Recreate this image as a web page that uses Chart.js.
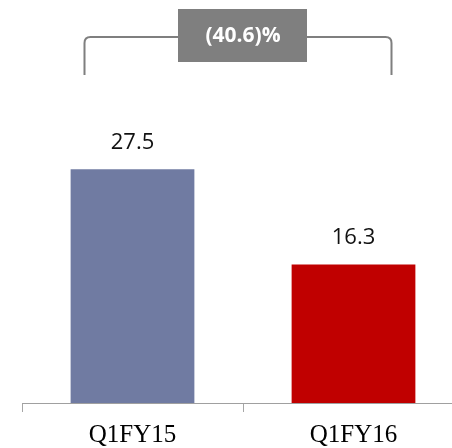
<!DOCTYPE html>
<html>
<head>
<meta charset="utf-8">
<script src="https://cdn.jsdelivr.net/npm/chart.js@4/dist/chart.umd.min.js"></script>
<style>
html, body { margin: 0; padding: 0; overflow: hidden; background: #fff; }
#wrap { position: absolute; left: 0; top: 0; width: 470px; height: 448px; }
</style>
</head>
<body>
<div id="wrap"><canvas id="chart" width="470" height="448"></canvas></div>
<script>
// data
var quarters = ['Q1FY15', 'Q1FY16'];
var values = [27.5, 16.3];
var barColors = ['#707BA2', '#C00000'];
var changeLabel = '(40.6)%';

// value labels above each bar
var valueLabels = {
    id: 'valueLabels',
    afterDatasetsDraw: function (chart) {
        var ctx = chart.ctx;
        var meta = chart.getDatasetMeta(0);
        ctx.save();
        ctx.fillStyle = '#111';
        ctx.font = '22px "Open Sans"';
        ctx.textAlign = 'center';
        ctx.textBaseline = 'middle';
        meta.data.forEach(function (bar, i) {
            ctx.fillText(values[i].toFixed(1), bar.x, bar.y - 27);
        });
        ctx.restore();
    }
};

// bracket with the change box on top
var changeBracket = {
    id: 'changeBracket',
    afterDraw: function (chart) {
        var ctx = chart.ctx;
        var meta = chart.getDatasetMeta(0);
        var left = meta.data[0].x - 48;
        var right = meta.data[1].x + 38;
        var mid = (meta.data[0].x + meta.data[1].x) / 2;
        var yTop = 37, yBot = 75, r = 6;
        ctx.save();
        ctx.strokeStyle = '#7F7F7F';
        ctx.lineWidth = 2;
        ctx.beginPath();
        ctx.moveTo(left, yBot);
        ctx.lineTo(left, yTop + r);
        ctx.quadraticCurveTo(left, yTop, left + r, yTop);
        ctx.lineTo(right - r, yTop);
        ctx.quadraticCurveTo(right, yTop, right, yTop + r);
        ctx.lineTo(right, yBot);
        ctx.stroke();

        ctx.fillStyle = '#7F7F7F';
        ctx.fillRect(mid - 65, 9, 129, 53);
        ctx.fillStyle = '#fff';
        ctx.font = 'bold 21px "Open Sans"';
        ctx.textAlign = 'center';
        ctx.textBaseline = 'middle';
        ctx.fillText(changeLabel, mid, 36);
        ctx.restore();
    }
};

var ctx = document.getElementById('chart').getContext('2d');
var chart = new Chart(ctx, {
    type: 'bar',
    data: {
        labels: quarters,
        datasets: [{
            data: values,
            backgroundColor: barColors,
            borderWidth: 0,
            categoryPercentage: 1,
            barPercentage: 0.56
        }]
    },
    options: {
        responsive: false,
        animation: false,
        devicePixelRatio: 1,
        layout: { padding: { left: 22, right: 6, top: 63, bottom: 0 } },
        plugins: {
            legend: { display: false },
            tooltip: { enabled: false }
        },
        scales: {
            x: {
                grid: {
                    offset: true,
                    drawOnChartArea: false,
                    tickLength: 9,
                    color: '#A6A6A6'
                },
                border: { color: '#A0A0A0', width: 1 },
                ticks: {
                    color: '#000',
                    padding: 8,
                    font: { family: '"Liberation Serif"', size: 25 }
                },
                afterFit: function (s) { s.height = 45; }
            },
            y: {
                display: false,
                min: 0,
                max: 40
            }
        }
    },
    plugins: [valueLabels, changeBracket]
});
</script>
</body>
</html>
